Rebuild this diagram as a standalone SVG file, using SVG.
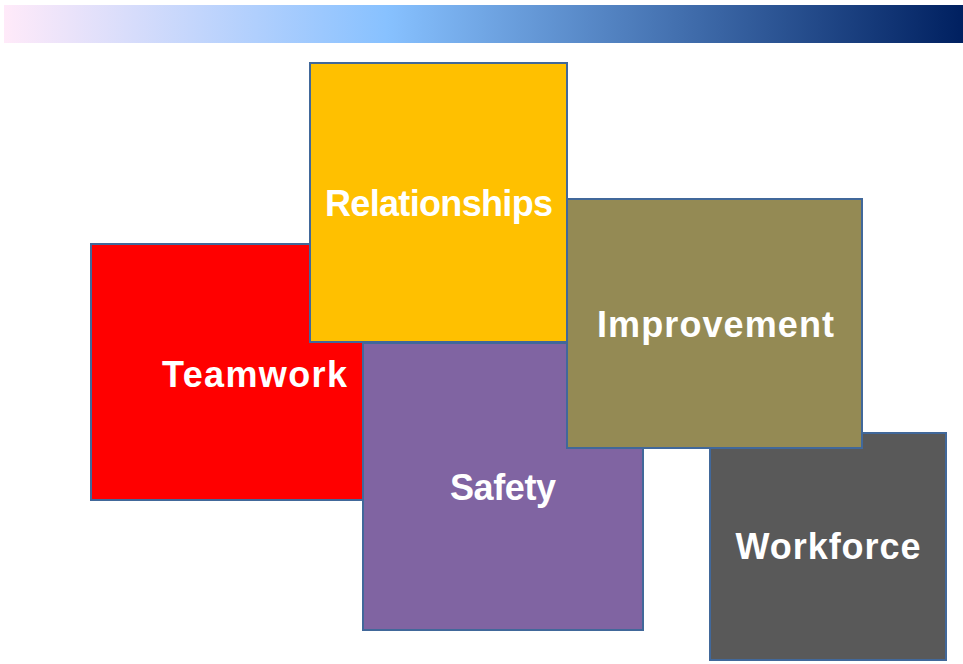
<svg xmlns="http://www.w3.org/2000/svg" width="963" height="664" viewBox="0 0 963 664">
<defs>
<linearGradient id="bar" x1="0" y1="0" x2="1" y2="0">
<stop offset="0" stop-color="#FFEAF9"/>
<stop offset="0.4" stop-color="#87C1FF"/>
<stop offset="1" stop-color="#002060"/>
</linearGradient>
</defs>
<style>
.box{stroke:#41689A;stroke-width:2}
.lbl{font-family:"Liberation Sans",Arial,sans-serif;font-weight:bold;font-size:36px;fill:#FFFFFF;text-anchor:middle}
</style>
<rect x="4" y="5" width="959" height="38" fill="url(#bar)"/>
<g id="teamwork">
<rect class="box" x="91" y="244" width="328" height="256" fill="#FF0000"/>
</g>
<g id="safety">
<rect class="box" x="363" y="343" width="280" height="287" fill="#8064A2"/>
<text class="lbl" x="503" y="500" textLength="106" lengthAdjust="spacing">Safety</text>
</g>
<g id="teamwork-label">
<text class="lbl" x="254.5" y="387" textLength="185" lengthAdjust="spacing">Teamwork</text>
</g>
<g id="relationships">
<rect class="box" x="310" y="63" width="257" height="279" fill="#FFC000"/>
<text class="lbl" x="439" y="216" textLength="228" lengthAdjust="spacing">Relationships</text>
</g>
<g id="workforce">
<rect class="box" x="710" y="433" width="236" height="227" fill="#595959"/>
<text class="lbl" x="828" y="559" textLength="185" lengthAdjust="spacing">Workforce</text>
</g>
<g id="improvement">
<rect class="box" x="567" y="199" width="295" height="249" fill="#948A54"/>
<text class="lbl" x="715.5" y="337" textLength="237" lengthAdjust="spacing">Improvement</text>
</g>
<g id="connectors"/>
</svg>
